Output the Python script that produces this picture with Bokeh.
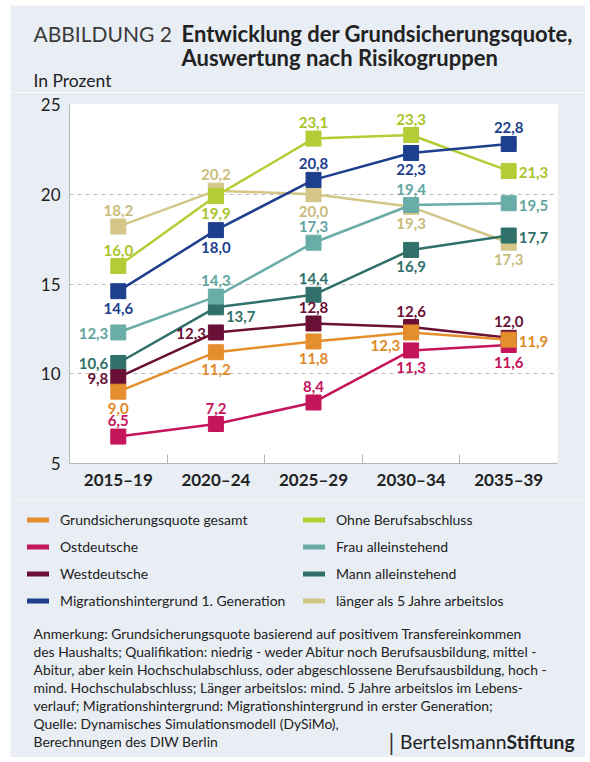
from bokeh.plotting import figure
from bokeh.layouts import column
from bokeh.models import Range1d, FixedTicker, Label, Legend, LegendItem
from bokeh.core.properties import value
from bokeh.embed import file_html
from bokeh.resources import INLINE

# ---------------- data ----------------
periods = ["2015–19", "2020–24", "2025–29", "2030–34", "2035–39"]

names = [
    "Grundsicherungsquote gesamt",
    "Ostdeutsche",
    "Westdeutsche",
    "Migrationshintergrund 1. Generation",
    "Ohne Berufsabschluss",
    "Frau alleinstehend",
    "Mann alleinstehend",
    "länger als 5 Jahre arbeitslos",
]

gesamt = [9.0, 11.2, 11.8, 12.3, 11.9]
ost = [6.5, 7.2, 8.4, 11.3, 11.6]
west = [9.8, 12.3, 12.8, 12.6, 12.0]
migration = [14.6, 18.0, 20.8, 22.3, 22.8]
ohne_beruf = [16.0, 19.9, 23.1, 23.3, 21.3]
frau = [12.3, 14.3, 17.3, 19.4, 19.5]
mann = [10.6, 13.7, 14.4, 16.9, 17.7]
arbeitslos = [18.2, 20.2, 20.0, 19.3, 17.3]

series = [gesamt, ost, west, migration, ohne_beruf, frau, mann, arbeitslos]

y_ticks = [5, 10, 15, 20, 25]

notes = [
    "Anmerkung: Grundsicherungsquote basierend auf positivem Transfereinkommen",
    "des Haushalts; Qualifikation: niedrig - weder Abitur noch Berufsausbildung, mittel -",
    "Abitur, aber kein Hochschulabschluss, oder abgeschlossene Berufsausbildung, hoch -",
    "mind. Hochschulabschluss; Länger arbeitslos: mind. 5 Jahre arbeitslos im Lebens-",
    "verlauf; Migrationshintergrund: Migrationshintergrund in erster Generation;",
    "Quelle: Dynamisches Simulationsmodell (DySiMo),",
    "Berechnungen des DIW Berlin",
]

# ---------------- style ----------------
colors = ["#e58e2d", "#c4145a", "#6a0f35", "#1d3f8e",
          "#b3cd35", "#6aada8", "#2f716a", "#d3c687"]
label_colors = ["#e0892a", "#c4145a", "#6a0f35", "#1d3f8e",
                "#a9c42c", "#62a6a1", "#2f716a", "#c9bc7c"]

# label placement per point: a=above, b=below, l=left, r=right, lb=left-below, rb=right-below
placements = [
    ["b", "b", "b", "lb", "r"],
    ["a", "a", "a", "b", "b"],
    ["l", "l", "a", "a", "a"],
    ["b", "b", "a", "b", "a"],
    ["a", "b", "a", "a", "r"],
    ["l", "a", "a", "a", "r"],
    ["l", "rb", "a", "b", "r"],
    ["a", "a", "b", "b", "b"],
]
place_style = {
    "a": dict(text_align="center", x_offset=0, y_offset=-16),
    "b": dict(text_align="center", x_offset=0, y_offset=17),
    "l": dict(text_align="right", x_offset=-10, y_offset=1),
    "r": dict(text_align="left", x_offset=10, y_offset=2),
    "lb": dict(text_align="right", x_offset=-11, y_offset=13),
    "rb": dict(text_align="left", x_offset=10, y_offset=9),
}

FONT = "Lato"
PANEL = "#e9eef5"
TXT = "#222222"
W = 575          # panel width
OX, OY = 10, 5   # panel origin on the page
SPLIT1 = 92      # page y where the chart block begins
SPLIT2 = 500     # page y where the legend block begins
BOTTOM = 757     # page y of the panel bottom


def text_fig(h):
    f = figure(width=W, height=h, output_backend="svg", toolbar_location=None,
               x_range=Range1d(0, 1), y_range=Range1d(0, 1),
               x_axis_location=None, y_axis_location=None, min_border=0,
               min_border_left=0, min_border_right=0, min_border_top=0,
               min_border_bottom=0, frame_align=False)
    f.grid.visible = False
    f.outline_line_color = None
    f.background_fill_color = PANEL
    f.border_fill_color = PANEL
    return f


def lab(f, fig_bottom, text, px, py, size, style="normal", color=TXT,
        align="left", baseline="middle"):
    f.add_layout(Label(x=px - OX, y=fig_bottom - py, x_units="screen",
                       y_units="screen", text=text, text_font=FONT,
                       text_font_size=size, text_font_style=style,
                       text_color=color, text_align=align,
                       text_baseline=baseline))


# ---------------- title ----------------
top = text_fig(SPLIT1 - OY)
tb = SPLIT1
lab(top, tb, "ABBILDUNG 2", 33, 33, "21px", color="#3a3a3a")
lab(top, tb, "Entwicklung der Grundsicherungsquote,", 181, 33, "22px", "bold")
lab(top, tb, "Auswertung nach Risikogruppen", 181, 57, "22px", "bold")
lab(top, tb, "In Prozent", 33, 80, "17.5px")

# ---------------- chart ----------------
p = figure(width=W, height=SPLIT2 - SPLIT1, output_backend="svg",
           toolbar_location=None,
           x_range=Range1d(-0.5, 4.5), y_range=Range1d(5, 25),
           min_border_left=69 - OX, min_border_right=OX + W - 557,
           min_border_top=104 - SPLIT1, min_border_bottom=SPLIT2 - 463,
           frame_align=False)
p.border_fill_color = PANEL
p.background_fill_color = "white"
p.outline_line_color = None

xi = list(range(len(periods)))
p.xaxis.ticker = FixedTicker(ticks=xi, minor_ticks=[i + 0.5 for i in xi[:-1]])
p.xaxis.major_label_overrides = {i: periods[i] for i in xi}
p.xaxis.major_tick_line_color = None
p.xaxis.major_tick_in = 0
p.xaxis.major_tick_out = 0
p.xaxis.minor_tick_in = 9
p.xaxis.minor_tick_out = 0
p.xaxis.minor_tick_line_color = "#b5b5b5"
p.xaxis.axis_line_color = "#b5b5b5"
p.xaxis.major_label_text_font = FONT
p.xaxis.major_label_text_font_style = "bold"
p.xaxis.major_label_text_font_size = "17px"
p.xaxis.major_label_text_color = TXT
p.xaxis.major_label_standoff = 5

p.yaxis.ticker = FixedTicker(ticks=y_ticks)
p.yaxis.major_tick_line_color = None
p.yaxis.major_tick_in = 0
p.yaxis.major_tick_out = 0
p.yaxis.minor_tick_line_color = None
p.yaxis.axis_line_color = "#b5b5b5"
p.yaxis.major_label_text_font = FONT
p.yaxis.major_label_text_font_size = "17px"
p.yaxis.major_label_text_color = TXT
p.yaxis.major_label_standoff = 9

p.xgrid.grid_line_color = None
p.ygrid.ticker = FixedTicker(ticks=y_ticks[1:])
p.ygrid.grid_line_color = "#bcbcbc"
p.ygrid.grid_line_dash = "4 4"
p.ygrid.grid_line_width = 1

for k in reversed(range(len(series))):
    vals = series[k]
    p.line(xi, vals, line_color=colors[k], line_width=2.5)
    p.scatter(xi, vals, marker="square", size=15, fill_color=colors[k],
              line_color=colors[k])

for k in range(len(series)):
    vals = series[k]
    for code, st in place_style.items():
        idx = [i for i in xi if placements[k][i] == code]
        if not idx:
            continue
        p.text([xi[i] for i in idx], [vals[i] for i in idx],
               text=[f"{vals[i]:.1f}".replace(".", ",") for i in idx],
               text_font=value(FONT), text_font_style="bold",
               text_font_size="15px", text_color=label_colors[k],
               text_baseline="middle", **st)

# ---------------- legend + notes ----------------
bot = text_fig(BOTTOM - SPLIT2)
bb = BOTTOM
nan = float("nan")
items = []
for k in range(len(series)):
    # legend-only renderer: undrawable (NaN) points
    r = bot.line([nan, nan], [nan, nan], line_color=colors[k], line_width=5,
                 line_cap="round")
    items.append(LegendItem(label=names[k], renderers=[r]))

for x0, its in [(27, items[:4]), (303, items[4:])]:
    lg = Legend(items=its, location=(x0 - OX, bb - 613.5),
                orientation="vertical", glyph_width=22, glyph_height=27,
                label_height=27, spacing=0, padding=0, margin=0,
                label_standoff=11, label_text_font=FONT,
                label_text_font_size="14px", label_text_color=TXT,
                border_line_color=None, background_fill_alpha=0)
    bot.add_layout(lg)

for j, t in enumerate(notes):
    lab(bot, bb, t, 33, 633 + 18 * j, "13.9px")

lab(bot, bb, "|", 391, 741, "23px", color="#333333", align="center")
lab(bot, bb, "Bertelsmann", 506, 741, "19.3px", align="right")
lab(bot, bb, "Stiftung", 506, 741, "19.3px", "bold", align="left")

layout = column(top, p, bot, spacing=0, margin=(OY, 0, 0, OX))
open("out.html", "w").write(file_html(layout, INLINE))
